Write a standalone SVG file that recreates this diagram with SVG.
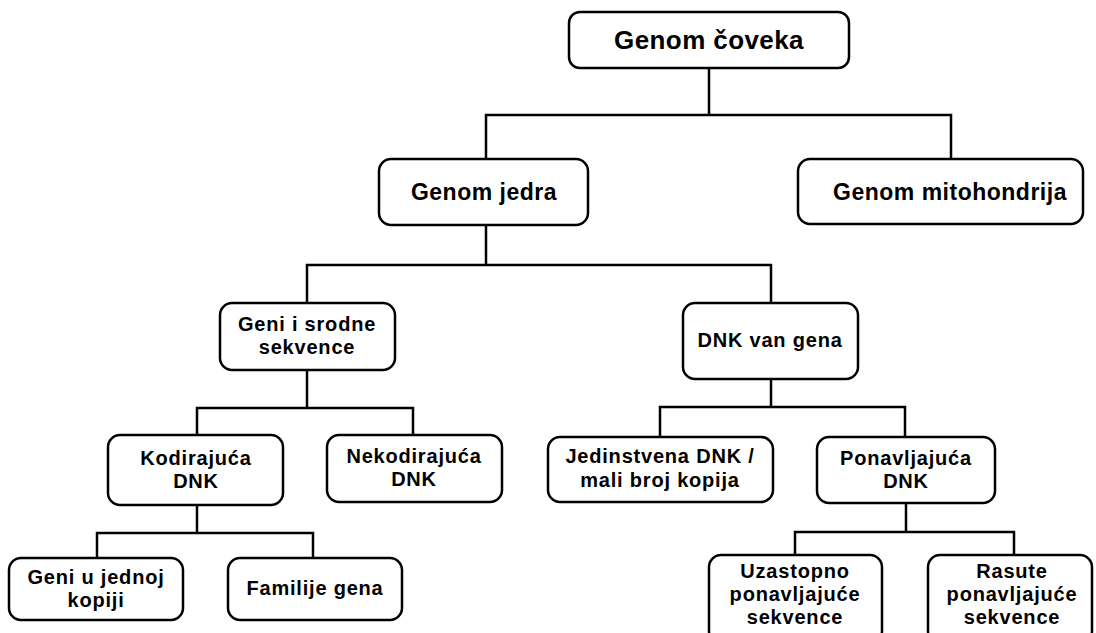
<svg xmlns="http://www.w3.org/2000/svg" width="1096" height="633" viewBox="0 0 1096 633">
<style>
.box{fill:#fff;stroke:#000;stroke-width:2.5}
.ln{fill:none;stroke:#000;stroke-width:2.5}
text{font-family:"Liberation Sans",Arial,sans-serif;font-weight:bold;fill:#000;text-anchor:middle}
.t1{font-size:26px;letter-spacing:0.4px}
.t2{font-size:23px;letter-spacing:0.5px}
.t3{font-size:20px;letter-spacing:0.8px}
</style>
<rect width="1096" height="633" fill="#fff"/>
<g id="connectors">
<path class="ln" d="M709 68V115M486 159V115H951V159"/>
<path class="ln" d="M486 225V265M307 303V265H771V303"/>
<path class="ln" d="M307 370V408M197 435V408H413V435"/>
<path class="ln" d="M771 379V407M660 437V407H905V437"/>
<path class="ln" d="M197 505V533M97 558V533H313V558"/>
<path class="ln" d="M906 503V532M795 555V532H1014V555"/>
</g>
<g id="genom-coveka"><rect class="box" x="569" y="12" width="280" height="56" rx="11"/><text class="t1" x="709" y="49">Genom čoveka</text></g>
<g id="genom-jedra"><rect class="box" x="379" y="159" width="209" height="66" rx="12"/><text class="t2" x="484" y="200">Genom jedra</text></g>
<g id="genom-mitohondrija"><rect class="box" x="798" y="159" width="285" height="65" rx="12"/><text class="t2" x="950" y="200">Genom mitohondrija</text></g>
<g id="geni-srodne"><rect class="box" x="220" y="303" width="175" height="67" rx="12"/><text class="t3" x="307" y="331">Geni i srodne</text><text class="t3" x="307" y="354">sekvence</text></g>
<g id="dnk-van-gena"><rect class="box" x="683" y="303" width="175" height="76" rx="12"/><text class="t3" x="770" y="347">DNK van gena</text></g>
<g id="kodirajuca"><rect class="box" x="108" y="435" width="175" height="70" rx="12"/><text class="t3" x="196" y="465">Kodirajuća</text><text class="t3" x="196" y="488">DNK</text></g>
<g id="nekodirajuca"><rect class="box" x="327" y="435" width="175" height="67" rx="12"/><text class="t3" x="414" y="463">Nekodirajuća</text><text class="t3" x="414" y="486">DNK</text></g>
<g id="jedinstvena"><rect class="box" x="548" y="437" width="225" height="65" rx="12"/><text class="t3" x="660" y="463">Jedinstvena DNK /</text><text class="t3" x="660" y="487">mali broj kopija</text></g>
<g id="ponavljajuca"><rect class="box" x="817" y="437" width="178" height="66" rx="12"/><text class="t3" x="906" y="465">Ponavljajuća</text><text class="t3" x="906" y="488">DNK</text></g>
<g id="geni-jedna-kopija"><rect class="box" x="9" y="558" width="174" height="62" rx="12"/><text class="t3" x="96" y="584">Geni u jednoj</text><text class="t3" x="96" y="607">kopiji</text></g>
<g id="familije-gena"><rect class="box" x="228" y="558" width="174" height="62" rx="12"/><text class="t3" x="315" y="595">Familije gena</text></g>
<g id="uzastopno"><rect class="box" x="709" y="555" width="173" height="88" rx="12"/><text class="t3" x="795" y="578">Uzastopno</text><text class="t3" x="795" y="601">ponavljajuće</text><text class="t3" x="795" y="624">sekvence</text></g>
<g id="rasute"><rect class="box" x="928" y="555" width="164" height="88" rx="12"/><text class="t3" x="1012" y="578">Rasute</text><text class="t3" x="1012" y="601">ponavljajuće</text><text class="t3" x="1012" y="624">sekvence</text></g>
</svg>
